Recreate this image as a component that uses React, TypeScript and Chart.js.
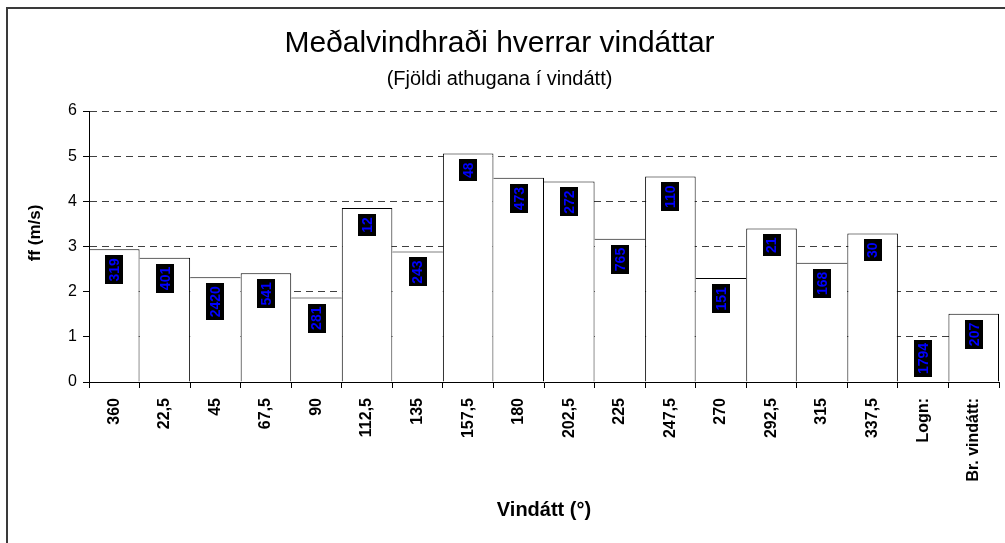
import React, { useEffect, useRef } from 'react';
import { Chart, registerables } from 'chart.js';

Chart.register(...registerables);

const categories = ['360', '22,5', '45', '67,5', '90', '112,5', '135', '157,5', '180', '202,5', '225', '247,5', '270', '292,5', '315', '337,5', 'Logn:', 'Br. vindátt:'];
const meanSpeed = [2.94, 2.75, 2.32, 2.41, 1.87, 3.85, 2.89, 5.06, 4.52, 4.44, 3.17, 4.55, 2.3, 3.4, 2.64, 3.29, 0, 1.51];
const obsCount = [319, 401, 2420, 541, 281, 12, 243, 48, 473, 272, 765, 110, 151, 21, 168, 30, 1794, 207];
const yTicks = [0, 1, 2, 3, 4, 5, 6];
const chartTitle = 'Meðalvindhraði hverrar vindáttar';
const chartSubtitle = '(Fjöldi athugana í vindátt)';
const xTitle = 'Vindátt (°)';
const yTitle = 'ff (m/s)';

const FONT = "'Liberation Sans', Arial, sans-serif";

const decorPlugin = {
  id: 'decor',
  beforeDraw(chart: any) {
    const ctx = chart.ctx;
    ctx.save();
    ctx.strokeStyle = '#3a3a3a';
    ctx.lineWidth = 2;
    ctx.beginPath();
    ctx.moveTo(7, 543);
    ctx.lineTo(7, 8);
    ctx.lineTo(1005, 8);
    ctx.stroke();
    ctx.restore();
  },
  afterDraw(chart: any) {
    const ctx = chart.ctx;
    const area = chart.chartArea;
    ctx.save();
    ctx.fillStyle = '#000';
    ctx.textAlign = 'center';
    ctx.textBaseline = 'middle';
    ctx.font = `bold 20px ${FONT}`;
    ctx.fillText(xTitle, (area.left + area.right) / 2, 510);
    ctx.translate(35, 233);
    ctx.rotate(-Math.PI / 2);
    ctx.font = `bold 17px ${FONT}`;
    ctx.fillText(yTitle, 0, 0);
    ctx.restore();
  },
  afterDatasetsDraw(chart: any) {
    const ctx = chart.ctx;
    const meta = chart.getDatasetMeta(0);
    ctx.save();
    ctx.font = `bold 14px ${FONT}`;
    meta.data.forEach((bar: any, i: number) => {
      const text = String(obsCount[i]);
      const len = ctx.measureText(text).width + 6;
      const thick = 18;
      let top = bar.y + 6;
      if (top + len > bar.base - 5) top = bar.base - 5 - len;
      ctx.fillStyle = '#000';
      ctx.fillRect(Math.round(bar.x - thick / 2), Math.round(top), thick, Math.round(len));
      ctx.save();
      ctx.translate(bar.x, top + len / 2);
      ctx.rotate(-Math.PI / 2);
      ctx.fillStyle = '#0000ff';
      ctx.textAlign = 'center';
      ctx.textBaseline = 'middle';
      ctx.fillText(text, 0, 1);
      ctx.restore();
    });
    ctx.restore();
  },
};

export default function App() {
  const canvasRef = useRef<HTMLCanvasElement | null>(null);

  useEffect(() => {
    document.body.style.margin = '0';
    const canvas = canvasRef.current;
    if (!canvas) return;
    const n = meanSpeed.length;
    const chart = new Chart(canvas, {
      type: 'bar',
      data: {
        labels: categories,
        datasets: [
          {
            data: meanSpeed,
            backgroundColor: '#ffffff',
            borderColor: '#000000',
            borderWidth: (c: any) => {
              const i = c.dataIndex;
              const v = meanSpeed;
              return {
                top: 1,
                bottom: 0,
                left: i === 0 || v[i] > v[i - 1] ? 1 : 0,
                right: i === n - 1 || v[i] >= v[i + 1] ? 1 : 0,
              };
            },
            borderSkipped: false,
            inflateAmount: 0,
            barPercentage: 1,
            categoryPercentage: 1,
          } as any,
        ],
      },
      options: {
        responsive: false,
        animation: false,
        devicePixelRatio: 1,
        layout: { padding: { top: 0, left: 0, right: 6, bottom: 0 } },
        plugins: {
          legend: { display: false },
          tooltip: { enabled: false },
          title: {
            display: true,
            text: chartTitle,
            color: '#000',
            font: { family: FONT, size: 30, weight: 'normal' },
            padding: { top: 26, bottom: 0 },
          },
          subtitle: {
            display: true,
            text: chartSubtitle,
            color: '#000',
            font: { family: FONT, size: 20, weight: 'normal' },
            padding: { top: 5, bottom: 20 },
          },
        },
        scales: {
          x: {
            offset: true,
            grid: {
              display: true,
              drawOnChartArea: false,
              drawTicks: true,
              tickLength: 6,
              offset: true,
              color: '#000',
            },
            border: { display: true, color: '#000', width: 1 },
            ticks: {
              autoSkip: false,
              minRotation: 90,
              maxRotation: 90,
              padding: 10,
              color: '#000',
              font: { family: FONT, size: 16, weight: 'bold' },
            },
            afterFit: (scale: any) => {
              scale.height = 161;
            },
          },
          y: {
            min: 0,
            max: 6,
            afterBuildTicks: (scale: any) => {
              scale.ticks = yTicks.map((v) => ({ value: v }));
            },
            grid: {
              color: '#404040',
              lineWidth: 1,
              tickLength: 6,
              tickColor: '#000',
            },
            border: { display: true, color: '#000', width: 1, dash: [7, 5] },
            ticks: {
              padding: 6,
              color: '#000',
              font: { family: FONT, size: 16 },
            },
            afterFit: (scale: any) => {
              scale.width = 89;
            },
          },
        },
      },
      plugins: [decorPlugin],
    } as any);
    return () => chart.destroy();
  }, []);

  return <canvas ref={canvasRef} width={1005} height={543} style={{ display: 'block', width: 1005, height: 543 }} />;
}
